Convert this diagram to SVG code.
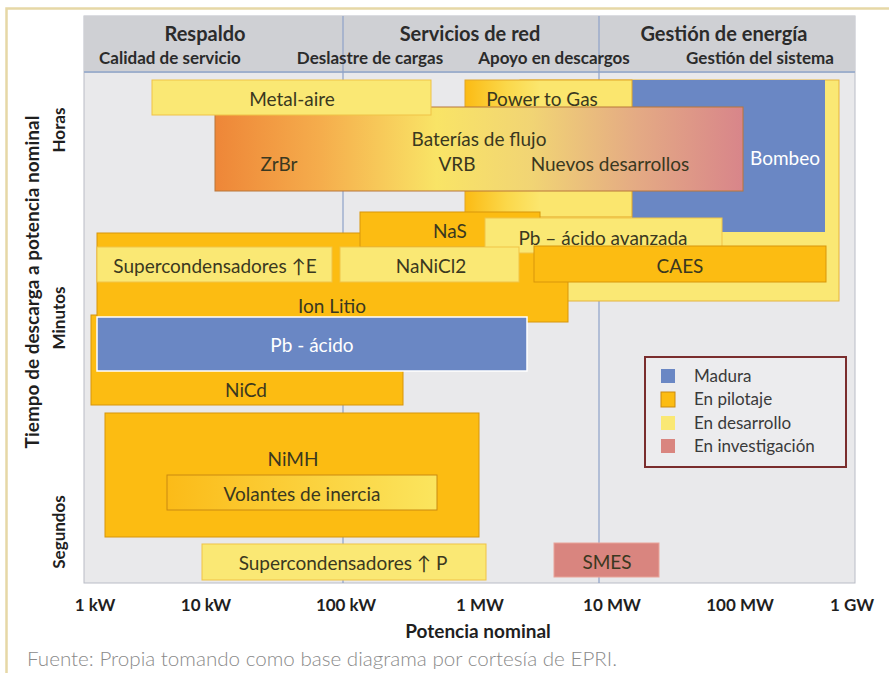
<svg xmlns="http://www.w3.org/2000/svg" width="889" height="673" viewBox="0 0 889 673">
<defs>
<linearGradient id="gFlow" x1="0" y1="0" x2="1" y2="0">
<stop offset="0" stop-color="#ee8638"/>
<stop offset="0.2" stop-color="#f5ad4c"/>
<stop offset="0.42" stop-color="#f9e466"/>
<stop offset="0.6" stop-color="#f1d474"/>
<stop offset="0.8" stop-color="#e4aa84"/>
<stop offset="1" stop-color="#d8858a"/>
</linearGradient>
<linearGradient id="gP2G" x1="0" y1="0" x2="1" y2="0">
<stop offset="0" stop-color="#fbbb14"/>
<stop offset="0.25" stop-color="#fbd84a"/>
<stop offset="0.45" stop-color="#fbe66e"/>
<stop offset="1" stop-color="#fbe66e"/>
</linearGradient>
<linearGradient id="gVol" x1="0" y1="0" x2="1" y2="0">
<stop offset="0" stop-color="#fbbb18"/>
<stop offset="1" stop-color="#fbe55e"/>
</linearGradient>
<style>
.t{font-family:Lato,"Open Sans","DejaVu Sans",sans-serif;fill:#3a3820;text-anchor:middle;dominant-baseline:central}
.box{font-size:19px}
.w{fill:#ffffff}
.hd{font-size:20px;font-weight:bold;fill:#2b2b2b}
.sh{font-size:17px;font-weight:bold;fill:#2b2b2b}
.ax{font-size:17px;font-weight:bold;fill:#1f1f1f}
.lg{font-size:17px;text-anchor:start;fill:#3a3a3a}
.or{fill:#fcbc12;stroke:#d8960a;stroke-width:1}
.ye{fill:#fae874;stroke:#f0c346;stroke-width:1}
.bl{fill:#6a87c4}
.grid{stroke:#8ea2c8;stroke-width:1.2}
</style>
</defs>
<rect x="0" y="0" width="889" height="673" fill="#ffffff"/>
<path d="M6.5 673 V8.5 H889" fill="none" stroke="#e6d8a6" stroke-width="2.5"/>

<!-- plot background -->
<rect x="84" y="16" width="771" height="567" fill="#e9e9eb" stroke="#b9bcc6" stroke-width="1"/>
<rect x="84" y="16" width="771" height="56" fill="#cfd0d4"/>
<line x1="84" y1="72" x2="855" y2="72" stroke="#9fb0cc" stroke-width="2"/>
<line class="grid" x1="343" y1="16" x2="343" y2="583"/>
<line class="grid" x1="599" y1="16" x2="599" y2="583"/>

<!-- header -->
<g id="header">
<text class="t hd" x="205" y="33">Respaldo</text>
<text class="t hd" x="470" y="33">Servicios de red</text>
<text class="t hd" x="724" y="33">Gestión de energía</text>
<text class="t sh" x="170" y="57">Calidad de servicio</text>
<text class="t sh" x="370" y="57">Deslastre de cargas</text>
<text class="t sh" x="554" y="57">Apoyo en descargos</text>
<text class="t sh" x="760" y="57">Gestión del sistema</text>
</g>

<g id="en-desarrollo-grande"><rect x="520" y="80" width="319" height="221" fill="#fae874" stroke="#e6b43c" stroke-width="1"/></g>
<g id="bombeo"><rect class="bl" x="632" y="80" width="193" height="152"/><text class="t box w" x="785" y="157">Bombeo</text></g>
<g id="power-to-gas"><rect x="465" y="80" width="167" height="137" fill="url(#gP2G)" stroke="#e2a628" stroke-width="1"/><text class="t box" x="542" y="98">Power to Gas</text></g>
<g id="baterias-flujo"><rect x="215" y="107" width="528" height="84" fill="url(#gFlow)" stroke="#b8763a" stroke-width="1"/>
<text class="t box" x="479" y="138">Baterías de flujo</text>
<text class="t box" x="279" y="163">ZrBr</text>
<text class="t box" x="457" y="163">VRB</text>
<text class="t box" x="610" y="163">Nuevos desarrollos</text></g>
<g id="metal-aire"><rect class="ye" x="152" y="80" width="279" height="35"/><text class="t box" x="292" y="98">Metal-aire</text></g>
<g id="nicd"><rect class="or" x="91" y="315" width="312" height="90"/><text class="t box" x="246" y="389">NiCd</text></g>
<g id="ion-litio"><rect class="or" x="97" y="233" width="471" height="89"/><text class="t box" x="332" y="305">Ion Litio</text></g>
<g id="nas"><rect class="or" x="360" y="212" width="180" height="35"/><text class="t box" x="450" y="230">NaS</text></g>
<g id="pb-acido-avanzada"><rect class="ye" x="485" y="218" width="237" height="35"/><text class="t box" x="603" y="237">Pb – ácido avanzada</text></g>
<g id="caes"><rect class="or" x="534" y="246" width="292" height="36"/><text class="t box" x="680" y="265">CAES</text></g>
<g id="supercond-e"><rect class="ye" x="97" y="247" width="235" height="35"/><text class="t box" x="215" y="265">Supercondensadores ↑E</text></g>
<g id="nanicl2"><rect class="ye" x="340" y="247" width="179" height="35"/><text class="t box" x="431" y="265">NaNiCl2</text></g>
<g id="pb-acido"><rect class="bl" x="97" y="317" width="430" height="54" stroke="#ffffff" stroke-width="1.5"/><text class="t box w" x="312" y="344">Pb - ácido</text></g>
<g id="nimh"><rect class="or" x="105" y="413" width="374" height="124"/><text class="t box" x="293" y="458">NiMH</text></g>
<g id="volantes"><rect x="167" y="475" width="270" height="35" fill="url(#gVol)" stroke="#c98a10" stroke-width="1"/><text class="t box" x="302" y="493">Volantes de inercia</text></g>
<g id="supercond-p"><rect class="ye" x="202" y="544" width="284" height="36"/><text class="t box" x="343" y="562">Supercondensadores ↑ P</text></g>
<g id="smes"><rect x="554" y="543" width="105" height="34" fill="#d9857f" stroke="#e9a49a" stroke-width="1"/><text class="t box" x="607" y="561">SMES</text></g>

<g id="legend">
<rect x="645" y="357" width="201" height="110" fill="#ececee" stroke="#7a2d2d" stroke-width="2"/>
<rect x="661" y="369" width="14" height="14" fill="#6a87c4"/>
<rect x="661" y="392" width="14" height="15" fill="#fcbc12" stroke="#c98a10" stroke-width="1"/>
<rect x="661" y="416" width="14" height="14" fill="#fae874"/>
<rect x="661" y="439" width="14" height="14" fill="#d9857f"/>
<text class="t lg" x="694" y="375">Madura</text>
<text class="t lg" x="694" y="398">En pilotaje</text>
<text class="t lg" x="694" y="422">En desarrollo</text>
<text class="t lg" x="694" y="445">En investigación</text>
</g>

<g id="axes">
<text class="t ax" x="95" y="604">1 kW</text>
<text class="t ax" x="206" y="604">10 kW</text>
<text class="t ax" x="346" y="604">100 kW</text>
<text class="t ax" x="480" y="604">1 MW</text>
<text class="t ax" x="612" y="604">10 MW</text>
<text class="t ax" x="740" y="604">100 MW</text>
<text class="t ax" x="852" y="604">1 GW</text>
<text class="t ax" x="478" y="630" style="font-size:19px">Potencia nominal</text>
<text class="t ax" transform="translate(31 282) rotate(-90)" style="font-size:19px">Tiempo de descarga a potencia nominal</text>
<text class="t ax" transform="translate(58 130) rotate(-90)">Horas</text>
<text class="t ax" transform="translate(58 318) rotate(-90)">Minutos</text>
<text class="t ax" transform="translate(58 532) rotate(-90)">Segundos</text>
</g>
<text x="27" y="658" textLength="590" lengthAdjust="spacingAndGlyphs" style="font-family:Lato,'Open Sans',sans-serif;font-weight:300;font-size:20px;fill:#8a8a8a;dominant-baseline:central">Fuente: Propia tomando como base diagrama por cortesía de EPRI.</text>
</svg>
